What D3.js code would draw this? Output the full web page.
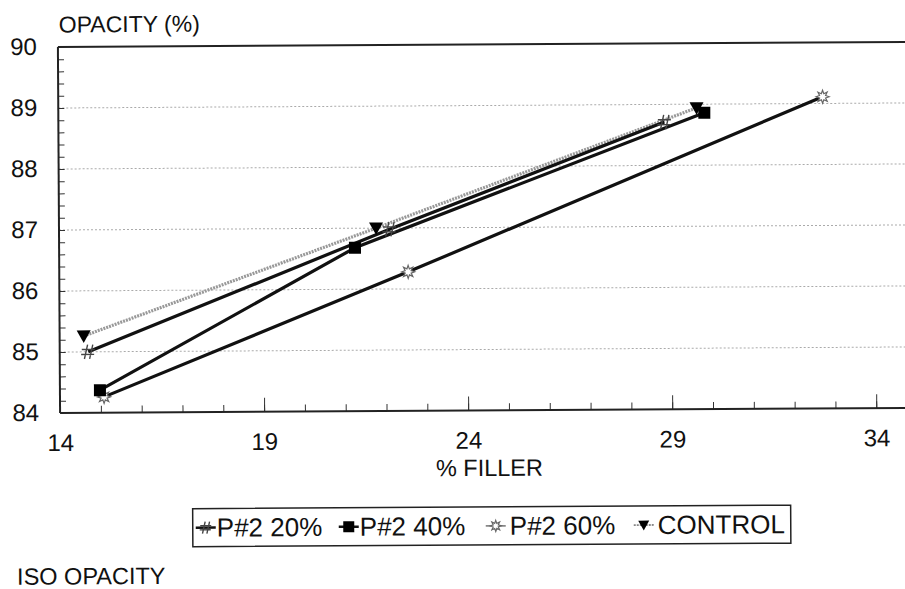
<!DOCTYPE html>
<html><head><meta charset="utf-8">
<script src="https://cdn.jsdelivr.net/npm/d3@7"></script>
<style>
body{margin:0;background:#fff;}
text{font-family:"Liberation Sans",Arial,sans-serif;fill:#111;}
</style></head>
<body><svg id="c" width="905" height="589"></svg>
<script>
const seriesNames = ["P#2 20%", "P#2 40%", "P#2 60%", "CONTROL"];
const p20X = [14.7, 22.1, 28.85];
const p20Y = [85.0, 86.98, 88.71];
const p40X = [14.98, 21.25, 29.83];
const p40Y = [84.37, 86.68, 88.86];
const p60X = [15.08, 22.55, 32.73];
const p60Y = [84.26, 86.28, 89.11];
const ctrlX = [14.59, 21.77, 29.64];
const ctrlY = [85.26, 87.0, 88.94];
const xTicks = [14, 19, 24, 29, 34];
const yTicks = [84, 85, 86, 87, 88, 89, 90];

const root = d3.select("#c");
const svg = root.append("g").attr("transform", "rotate(-0.34,480,230)");
const L = 59, R = 916, T = 44.5, B = 410.5;
const x = d3.scaleLinear().domain([14, 35]).range([L, R]);
const y = d3.scaleLinear().domain([84, 90]).range([B, T]);

// gridlines
svg.append("g").selectAll("line").data([85,86,87,88,89]).join("line")
  .attr("x1", L).attr("x2", 910).attr("y1", d=>y(d)).attr("y2", d=>y(d))
  .attr("stroke", "#aaa").attr("stroke-width", 1).attr("stroke-dasharray", "2,2");

// top border
svg.append("line").attr("x1", L).attr("x2", 910).attr("y1", y(90)).attr("y2", y(90))
  .attr("stroke", "#222").attr("stroke-width", 2);

// x axis minor/major ticks (inside)
const xMinor = d3.range(15, 35);
svg.append("g").attr("transform", `translate(0,${B})`)
  .call(d3.axisBottom(x).tickValues(xMinor).tickSize(-7).tickFormat(""))
  .call(g => g.select(".domain").remove())
  .call(g => g.selectAll("line").attr("stroke", "#333"));
svg.append("g").attr("transform", `translate(0,${B})`)
  .call(d3.axisBottom(x).tickValues(xTicks.slice(1)).tickSize(-14).tickFormat(""))
  .call(g => g.select(".domain").remove())
  .call(g => g.selectAll("line").attr("stroke", "#333"));
svg.append("g").attr("transform", `translate(0,${B})`)
  .call(d3.axisBottom(x).tickValues(xTicks).tickSize(0).tickPadding(21).tickFormat(d3.format("d")))
  .call(g => g.select(".domain").remove())
  .call(g => g.selectAll("text").style("font-size", "24px").style("font-family", "Liberation Sans").attr("fill", "#111"));

// y axis ticks
const yMinor = d3.range(84.2, 90, 0.2);
svg.append("g").attr("transform", `translate(${L},0)`)
  .call(d3.axisLeft(y).tickValues(yMinor).tickSize(-6).tickFormat(""))
  .call(g => g.select(".domain").remove())
  .call(g => g.selectAll("line").attr("stroke", "#333"));
svg.append("g").attr("transform", `translate(${L},0)`)
  .call(d3.axisLeft(y).tickValues(yTicks).tickSize(0).tickPadding(21).tickFormat(d3.format("d")))
  .call(g => g.select(".domain").remove())
  .call(g => g.selectAll("text").style("font-size", "24px").style("font-family", "Liberation Sans").attr("fill", "#111").attr("dy", "0.3em"));

// axis lines
svg.append("line").attr("x1", L).attr("x2", L).attr("y1", T).attr("y2", B).attr("stroke", "#222").attr("stroke-width", 2);
svg.append("line").attr("x1", L).attr("x2", 910).attr("y1", B).attr("y2", B).attr("stroke", "#222").attr("stroke-width", 2);

// marker drawers
function hashMarker(g, cx, cy, s) {
  const p = `M${cx-s*0.3},${cy+s*0.55}L${cx-s*0.05},${cy-s*0.55}M${cx+s*0.1},${cy+s*0.55}L${cx+s*0.35},${cy-s*0.55}` +
            `M${cx-s*0.5},${cy-s*0.18}L${cx+s*0.5},${cy-s*0.18}M${cx-s*0.55},${cy+s*0.2}L${cx+s*0.45},${cy+s*0.2}`;
  g.append("path").attr("d", p).attr("stroke", "#444").attr("stroke-width", 1.4).attr("fill", "none");
}
function squareMarker(g, cx, cy, s) {
  g.append("rect").attr("x", cx-s/2).attr("y", cy-s/2).attr("width", s).attr("height", s).attr("fill", "#000");
}
function starMarker(g, cx, cy, s) {
  const pts = [];
  for (let i = 0; i < 16; i++) {
    const r = i % 2 === 0 ? s/2 : s/4;
    const a = i * Math.PI / 8 - Math.PI/2;
    pts.push([cx + r*Math.cos(a), cy + r*Math.sin(a)]);
  }
  g.append("path").attr("d", d3.line()(pts) + "Z").attr("fill", "#fff").attr("stroke", "#666").attr("stroke-width", 1.2);
}
function triMarker(g, cx, cy, s) {
  const p = `M${cx-s/2},${cy-s*0.4}L${cx+s/2},${cy-s*0.4}L${cx},${cy+s*0.5}Z`;
  g.append("path").attr("d", p).attr("fill", "#000");
}

const line = d3.line().x(d=>x(d[0])).y(d=>y(d[1]));
const zip = (a,b) => a.map((v,i)=>[v,b[i]]);
const series = [
  {name: seriesNames[0], pts: zip(p20X,p20Y), stroke:"#111", dash:null, w:3.2, mk:hashMarker, ms:13},
  {name: seriesNames[1], pts: zip(p40X,p40Y), stroke:"#111", dash:null, w:3.2, mk:squareMarker, ms:12},
  {name: seriesNames[2], pts: zip(p60X,p60Y), stroke:"#111", dash:null, w:3.2, mk:starMarker, ms:13},
  {name: seriesNames[3], pts: zip(ctrlX,ctrlY), stroke:"#999", dash:"2,1", w:3.2, mk:triMarker, ms:14}
];
const gl = svg.append("g");
[3,2,1,0].forEach(i => {
  const s = series[i];
  gl.append("path").attr("d", line(s.pts)).attr("fill","none").attr("stroke", s.stroke)
    .attr("stroke-width", s.w).attr("stroke-dasharray", s.dash);
});
const gm = svg.append("g");
[3,2,1,0].forEach(i => {
  const s = series[i];
  s.pts.forEach(p => s.mk(gm, x(p[0]), y(p[1]), s.ms));
});

// titles
svg.append("text").attr("x", 60).attr("y", 30).style("font-size", "23px").text("OPACITY (%)");
svg.append("text").attr("x", 488).attr("y", 476).attr("text-anchor", "middle").style("font-size", "23.5px").text("% FILLER");
svg.append("text").attr("x", 15).attr("y", 582).style("font-size", "23.5px").text("ISO OPACITY");

// legend
const lg = svg.append("g");
lg.append("rect").attr("x", 191).attr("y", 507).attr("width", 598).attr("height", 38)
  .attr("fill", "none").attr("stroke", "#222").attr("stroke-width", 1.5);
const legPos = [{mx:204, tx:215}, {mx:347, tx:358}, {mx:494, tx:508}, {mx:642, tx:656}];
series.forEach((s, i) => {
  const p = legPos[i];
  lg.append("line").attr("x1", p.mx-10).attr("x2", p.mx+10).attr("y1", 526).attr("y2", 526)
    .attr("stroke", i >= 2 ? "#888" : "#111").attr("stroke-width", i >= 2 ? 1.8 : 2.5)
    .attr("stroke-dasharray", i===3 ? "2,1" : null);
  s.mk(lg, p.mx, 526, 11);
  lg.append("text").attr("x", p.tx).attr("y", 535).style("font-size", "26px").text(s.name);
});
</script></body></html>
